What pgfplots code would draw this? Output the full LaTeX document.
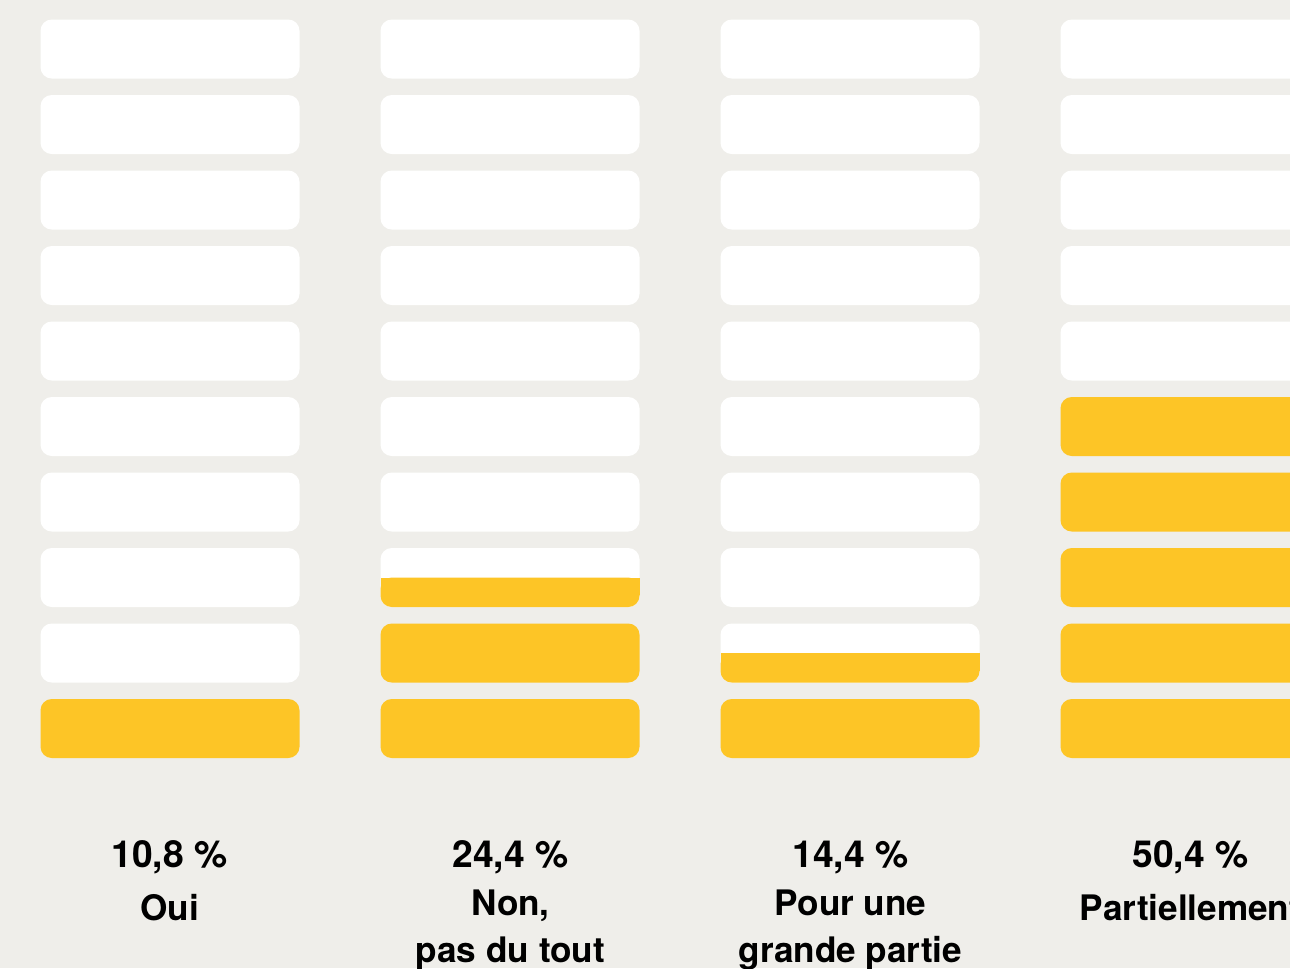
\documentclass[border=0pt]{standalone}
\usepackage{pgfplots}
\pgfplotsset{compat=1.18}
\usepackage{fontspec}
\setmainfont{TeX Gyre Heros}
\definecolor{bgc}{RGB}{239,238,234}
\definecolor{yel}{RGB}{253,197,38}
\begin{document}
\begin{tikzpicture}
\begin{axis}[scale only axis, width=129mm, height=96.8mm,
  xmin=0, xmax=1290, ymin=0, ymax=968, y dir=reverse,
  hide axis, clip=true]
\fill[bgc] (axis cs:0,0) rectangle (axis cs:1290,968);
\foreach \j/\v in {0/10.8,1/24.4,2/14.4,3/50.4} {
  \pgfmathsetmacro\xa{40.5+340*\j}
  \pgfmathsetmacro\xb{\xa+259}
  \pgfmathsetmacro\F{round(\v/5)/2}
  \foreach \m in {0,...,9} {
    \pgfmathsetmacro\yb{758-75.5*\m}
    \pgfmathsetmacro\ya{\yb-59}
    \pgfmathsetmacro\f{min(max(\F-\m,0),1)}
    \pgfmathsetmacro\yt{\yb-59*\f}
    \pgfmathsetmacro\ys{\yb-12}
    \ifdim\f pt<1pt
      \edef\tmp{\noexpand\addplot[draw=none, fill=white, rounded corners=3.2pt] coordinates {(\xa,\ya) (\xb,\ya) (\xb,\yb) (\xa,\yb)} -- cycle;}
      \tmp
    \fi
    \ifdim\f pt>0pt
      \edef\tmp{\noexpand\addplot[draw=none, fill=yel, rounded corners=3.2pt] coordinates {(\xa,\yt) (\xb,\yt) (\xb,\yb) (\xa,\yb)} -- cycle;}
      \tmp
      \ifdim\f pt<1pt
        \edef\tmp{\noexpand\addplot[draw=none, fill=yel] coordinates {(\xa,\yt) (\xb,\yt) (\xb,\ys) (\xa,\ys)} -- cycle;}
        \tmp
      \fi
    \fi
  }
}
\tikzset{lab/.style={anchor=base, inner sep=0pt, font=\fontsize{10.6}{13}\selectfont\bfseries},
  wlab/.style={anchor=base, inner sep=0pt, font=\fontsize{10}{13}\selectfont\bfseries}}
\node[lab] at (axis cs:169.5,867) {10,8 \%};
\node[wlab] at (axis cs:169.5,920) {Oui};
\node[lab] at (axis cs:510.5,867) {24,4 \%};
\node[wlab] at (axis cs:510.5,915) {Non,};
\node[wlab] at (axis cs:510.5,962) {pas du tout};
\node[lab] at (axis cs:850.5,867) {14,4 \%};
\node[wlab] at (axis cs:850.5,915) {Pour une};
\node[wlab] at (axis cs:850.5,962) {grande partie};
\node[lab] at (axis cs:1190.5,867) {50,4 \%};
\node[wlab] at (axis cs:1190.5,920) {Partiellement};
\end{axis}
\pgfresetboundingbox
\path[use as bounding box] (current axis.south west) rectangle (current axis.north east);
\end{tikzpicture}
\end{document}
